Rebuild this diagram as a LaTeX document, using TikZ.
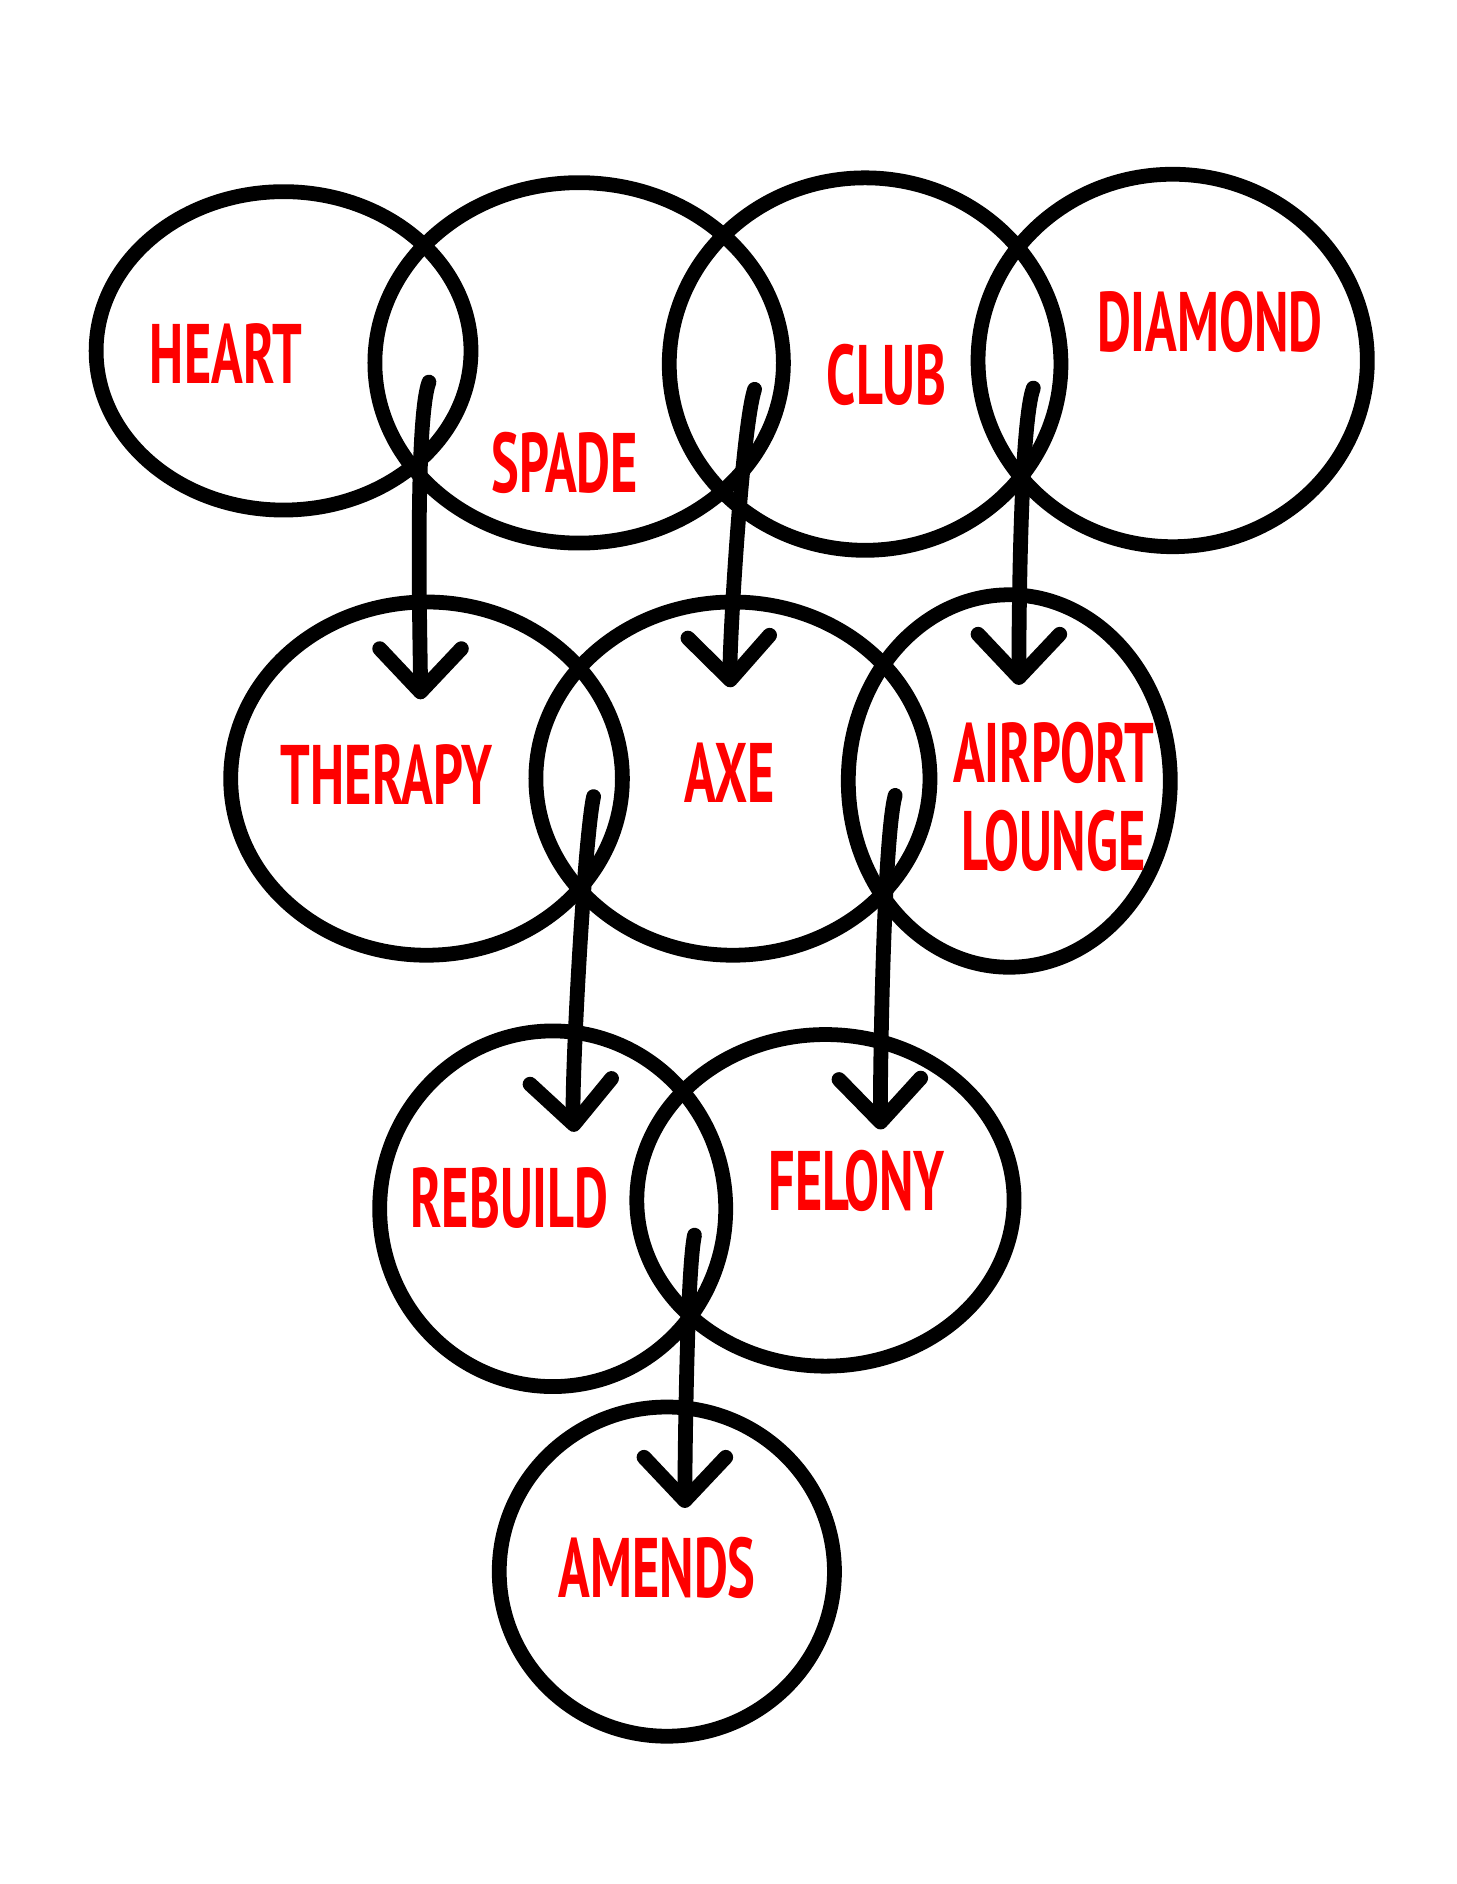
\documentclass[tikz,border=0pt]{standalone}
\usepackage{fontspec}
\setmainfont[FakeStretch=0.62]{PT Sans}
\usetikzlibrary{shapes.geometric, arrows.meta}

\tikzset{
  ring/.style={ellipse, draw, line width=3.5pt, inner sep=0pt},
  word/.style={text=red, font=\bfseries\fontsize{20}{24}\selectfont, inner sep=0pt, align=center},
  link/.style={line width=3.5pt, line cap=round, -{Straight Barb[length=3.6mm, width=6.8mm, round]}}
}

\begin{document}
\begin{tikzpicture}[x=0.1mm, y=-0.1mm]
    \useasboundingbox[fill=white] (0,0) rectangle (1212,1568);

    % Define circles
    \node[ring, minimum width=31.2mm, minimum height=26.5mm] (heart) at (236,292) {};
    \node[ring, minimum width=34.0mm, minimum height=30.0mm] (spade) at (482,302) {};
    \node[ring, minimum width=32.6mm, minimum height=31.0mm] (club) at (720,303) {};
    \node[ring, minimum width=32.4mm, minimum height=31.0mm] (diamond) at (976,300) {};
    \node[ring, minimum width=32.6mm, minimum height=29.4mm] (therapy) at (355,648) {};
    \node[ring, minimum width=32.8mm, minimum height=29.4mm] (axe) at (610,648) {};
    \node[ring, minimum width=26.8mm, minimum height=31.0mm] (lounge) at (840,650) {};
    \node[ring, minimum width=28.8mm, minimum height=29.6mm] (rebuild) at (460,1006) {};
    \node[ring, minimum width=31.4mm, minimum height=27.6mm] (felony) at (687,999) {};
    \node[ring, minimum width=27.9mm, minimum height=27.4mm] (amends) at (555,1308) {};

    % Labels
    \node[word] (lheart) at (188,294) {HEART};
    \node[word] (lspade) at (470,385) {SPADE};
    \node[word] (lclub) at (738,312) {CLUB};
    \node[word] (ldiamond) at (1007,268) {DIAMOND};
    \node[word] (ltherapy) at (322,645) {THERAPY};
    \node[word] (laxe) at (607,643) {AXE};
    \node[word] (lairport) at (877,627) {AIRPORT};
    \node[word] (llounge) at (877,700) {LOUNGE};
    \node[word] (lrebuild) at (424,997) {REBUILD};
    \node[word] (lfelony) at (713,983) {FELONY};
    \node[word] (lamends) at (547,1305) {AMENDS};

    % Arrow ends
    \coordinate (t1) at (357,318);  \coordinate (h1) at (350,582);
    \coordinate (t2) at (628,324);  \coordinate (h2) at (608,572);
    \coordinate (t3) at (860,323);  \coordinate (h3) at (848,570);
    \coordinate (t4) at (494,663);  \coordinate (h4) at (478,942);
    \coordinate (t5) at (745,662);  \coordinate (h5) at (733,940);
    \coordinate (t6) at (578,1028); \coordinate (h6) at (570,1255);

    % Draw arrows
    \draw[link] (t1) to[out=250, in=90, looseness=0.35] (h1);
    \draw[link] (t2) to[out=252, in=92, looseness=0.35] (h2);
    \draw[link] (t3) to[out=250, in=90, looseness=0.35] (h3);
    \draw[link] (t4) to[out=258, in=94, looseness=0.35] (h4);
    \draw[link] (t5) to[out=255, in=91, looseness=0.35] (h5);
    \draw[link] (t6) to[out=258, in=90, looseness=0.35] (h6);
\end{tikzpicture}
\end{document}
